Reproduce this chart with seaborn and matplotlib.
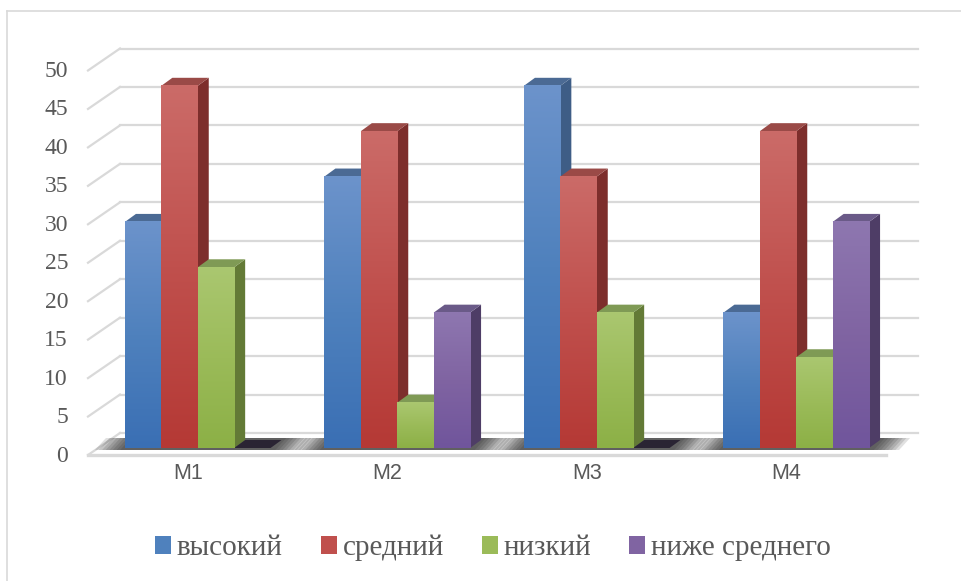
import numpy as np
import pandas as pd
import matplotlib
matplotlib.use('Agg')
import matplotlib.pyplot as plt
import seaborn as sns
from matplotlib.transforms import offset_copy, IdentityTransform
from matplotlib.patches import Polygon, Patch
from matplotlib.lines import Line2D
from matplotlib.colors import LinearSegmentedColormap

categories = ['M1', 'M2', 'M3', 'M4']
levels = ['высокий', 'средний', 'низкий', 'ниже среднего']
vysokiy = [29.4, 35.3, 47.1, 17.6]
sredniy = [47.1, 41.2, 35.3, 41.2]
nizkiy = [23.5, 5.9, 17.6, 11.8]
nizhe_srednego = [0, 17.6, 0, 29.4]
y_ticks = list(range(0, 55, 5))

front_colors = ['#4F81BD', '#C0504D', '#9BBB59', '#8064A2']
light_colors = ['#6C93CB', '#CB6B68', '#AAC770', '#8E77B0']
dark_colors = ['#3A6FB4', '#B53935', '#8CB046', '#70559C']
side_colors = ['#3E5D86', '#7D2E2C', '#637A36', '#4E3D66']
top_colors = ['#4B6A94', '#9A4A47', '#7F9A55', '#6A5A88']
grid_color = '#D9D9D9'
text_color = '#595959'

df = pd.DataFrame({
    'cat': categories * 4,
    'level': np.repeat(levels, 4),
    'val': vysokiy + sredniy + nizkiy + nizhe_srednego,
})

W, H = 962, 581
fig = plt.figure(figsize=(W / 100, H / 100), dpi=100)
# оси = плоскость передних граней столбцов
ax = fig.add_axes([98 / W, (H - 448) / H, (896 - 98) / W, (448 - 63.5) / H])
sns.barplot(data=df, x='cat', y='val', hue='level', palette=front_colors,
            width=0.73, saturation=1, legend=False, ax=ax,
            edgecolor='none', linewidth=0, zorder=4)
ax.set_xlim(-0.5, 3.5)
ax.set_ylim(0, 50)
ax.autoscale(False)
ax.axis('off')

front = offset_copy(ax.transData, fig=fig, x=-10, y=-7, units='dots')
back = offset_copy(ax.transData, fig=fig, x=22, y=15, units='dots')
ident = IdentityTransform()

# задняя стена и сетка
for v in y_ticks:
    ax.plot([-0.5, 3.5], [v, v], transform=back, color=grid_color, lw=1.6,
            clip_on=False, zorder=0)
    p0 = front.transform((-0.5, v))
    p1 = back.transform((-0.5, v))
    ax.add_line(Line2D([p0[0], p1[0]], [p0[1], p1[1]], transform=ident,
                       color=grid_color, lw=1.6, clip_on=False, zorder=0))
    ax.text(-0.5, v, str(v), transform=offset_copy(ax.transData, fig=fig, x=-30, y=-8, units='dots'),
            ha='right', va='center', fontsize=17, family='Liberation Serif', color=text_color)

# пол
ax.plot([-0.5, 3.5], [0, 0], transform=front, color=grid_color, lw=2.4,
        clip_on=False, zorder=0.5)

for i, cat in enumerate(categories):
    ax.text(i, 0, cat, transform=offset_copy(ax.transData, fig=fig, x=-10, y=-15, units='dots'),
            ha='center', va='top', fontsize=15.5, family='Liberation Sans', color=text_color)

# тени на полу
d = np.array([11, 8])
for i in range(len(categories)):
    a = ax.transData.transform((i - 0.365, 0))
    b = ax.transData.transform((i + 0.365, 0))
    for k in range(8):
        e = 30 - 3.6 * k
        poly = [a + (-e, -2), b + (e, -2), b + d + (e, 2), a + d + (-e, 2)]
        ax.add_patch(Polygon(poly, closed=True, transform=ident, facecolor='#151515',
                             edgecolor='none', alpha=0.13, clip_on=False, zorder=1))

# объём столбцов
grad = np.linspace(0, 1, 128).reshape(-1, 1)
for li, cont in enumerate(ax.containers):
    cmap = LinearSegmentedColormap.from_list('g%d' % li, [dark_colors[li], front_colors[li], light_colors[li]])
    for bar in cont:
        x0 = bar.get_x()
        x1 = x0 + bar.get_width()
        h = bar.get_height()
        p = ax.transData.transform([(x0, 0), (x1, 0), (x1, h), (x0, h)])
        if h > 0:
            ax.add_patch(Polygon([p[1], p[2], p[2] + d, p[1] + d], transform=ident,
                                 facecolor=side_colors[li], edgecolor='none', clip_on=False, zorder=2))
            ax.add_patch(Polygon([p[3], p[2], p[2] + d, p[3] + d], transform=ident,
                                 facecolor=top_colors[li], edgecolor='none', clip_on=False, zorder=3))
            ax.imshow(grad, extent=[x0, x1, 0, h], origin='lower', aspect='auto',
                      cmap=cmap, interpolation='bilinear', zorder=5)
        else:
            ax.add_patch(Polygon([p[0], p[1], p[1] + d, p[0] + d], transform=ident,
                                 facecolor='#2A2433', edgecolor='none', clip_on=False, zorder=3))

ax.set_xlim(-0.5, 3.5)
ax.set_ylim(0, 50)

handles = [Patch(facecolor=c, edgecolor='none') for c in front_colors]
fig.legend(handles, levels, loc='center', bbox_to_anchor=(493 / W, (H - 548) / H),
           ncol=4, frameon=False, prop={'family': 'Liberation Serif', 'size': 21},
           labelcolor=text_color, handlelength=0.55, handleheight=0.55,
           handletextpad=0.2, columnspacing=1.3, borderpad=0, borderaxespad=0)

# рамка области диаграммы
fig.add_artist(Line2D([7 / W, 7 / W], [0, (H - 11) / H], transform=fig.transFigure,
                      color=grid_color, lw=1.2))
fig.add_artist(Line2D([7 / W, 1], [(H - 11) / H, (H - 11) / H], transform=fig.transFigure,
                      color=grid_color, lw=1.2))

fig.savefig('out.png', dpi=100)
